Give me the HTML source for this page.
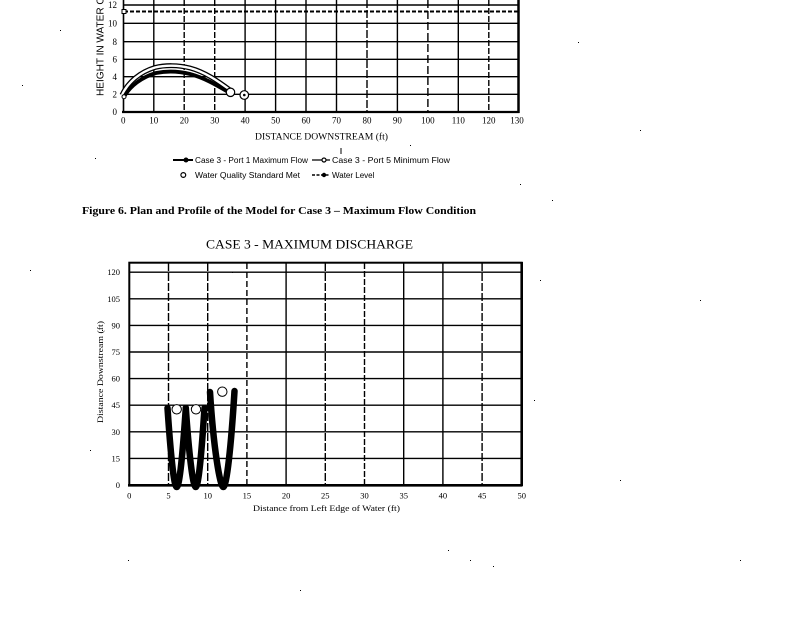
<!DOCTYPE html>
<html><head><meta charset="utf-8"><style>
html,body{margin:0;padding:0;background:#fff;}
svg{display:block;}
.s{font-family:"Liberation Serif",serif;fill:#000;}
.a{font-family:"Liberation Sans",sans-serif;fill:#000;}
</style></head><body>
<svg width="800" height="618" viewBox="0 0 800 618" xmlns="http://www.w3.org/2000/svg">
<rect width="800" height="618" fill="#fff"/>
<!-- TOP CHART -->
<g stroke="#000" stroke-width="1.4" fill="none">
<line x1="123" y1="94.3" x2="518" y2="94.3"/>
<line x1="123" y1="76.7" x2="518" y2="76.7"/>
<line x1="123" y1="59.3" x2="518" y2="59.3"/>
<line x1="123" y1="41.7" x2="518" y2="41.7"/>
<line x1="123" y1="23.3" x2="518" y2="23.3"/>
<line x1="123" y1="5" x2="518" y2="5"/>
<line x1="153.8" y1="0" x2="153.8" y2="112"/>
<line x1="184.2" y1="0" x2="184.2" y2="112" stroke-dasharray="6 2"/>
<line x1="214.7" y1="0" x2="214.7" y2="112" stroke-dasharray="6 2"/>
<line x1="245.1" y1="0" x2="245.1" y2="112"/>
<line x1="275.6" y1="0" x2="275.6" y2="112"/>
<line x1="306" y1="0" x2="306" y2="112"/>
<line x1="336.5" y1="0" x2="336.5" y2="112"/>
<line x1="367" y1="0" x2="367" y2="112" stroke-dasharray="8 2"/>
<line x1="397.4" y1="0" x2="397.4" y2="112"/>
<line x1="427.9" y1="0" x2="427.9" y2="112" stroke-dasharray="8 3"/>
<line x1="458.3" y1="0" x2="458.3" y2="112"/>
<line x1="488.8" y1="0" x2="488.8" y2="112" stroke-dasharray="6 2"/>
</g>
<line x1="123.5" y1="0" x2="123.5" y2="113" stroke="#000" stroke-width="1.6"/>
<line x1="122" y1="112" x2="519.5" y2="112" stroke="#000" stroke-width="2.2"/>
<line x1="518.5" y1="0" x2="518.5" y2="113" stroke="#000" stroke-width="2.5"/>
<line x1="124" y1="11.5" x2="518" y2="11.5" stroke="#000" stroke-width="2" stroke-dasharray="4 2"/>
<rect x="122" y="9.5" width="4" height="4" fill="#fff" stroke="#000" stroke-width="1"/>
<!-- curves -->
<path d="M122,95 C128,82 140,72 155,67.5 C165,65 178,65 190,68 C205,72 218,81 230,90" fill="none" stroke="#000" stroke-width="5"/>
<path d="M122,95 C128,82 140,72 155,67.5 C165,65 178,65 190,68 C205,72 218,81 230,90" fill="none" stroke="#fff" stroke-width="2.4"/>
<path d="M124,97 C130,86 142,77 156,73 C166,71 178,71 190,74 C205,78 218,86 230,93" fill="none" stroke="#000" stroke-width="3.8"/>
<circle cx="230.5" cy="92.3" r="4.2" fill="#fff" stroke="#000" stroke-width="1.2"/>
<circle cx="244.3" cy="95" r="4.3" fill="#fff" stroke="#000" stroke-width="1.2"/>
<circle cx="244.3" cy="95" r="1.3" fill="#000"/>
<circle cx="124" cy="96.7" r="2" fill="#fff" stroke="#000" stroke-width="1"/>
<!-- top labels -->
<g class="s" font-size="9" text-anchor="end">
<text x="117" y="115">0</text>
<text x="117" y="97.5">2</text>
<text x="117" y="80">4</text>
<text x="117" y="62.5">6</text>
<text x="117" y="45">8</text>
<text x="117" y="26.5">10</text>
<text x="117" y="8">12</text>
</g>
<g class="s" font-size="9" text-anchor="middle">
<text x="123.3" y="123.5">0</text>
<text x="153.8" y="123.5">10</text>
<text x="184.2" y="123.5">20</text>
<text x="214.7" y="123.5">30</text>
<text x="245.1" y="123.5">40</text>
<text x="275.6" y="123.5">50</text>
<text x="306" y="123.5">60</text>
<text x="336.5" y="123.5">70</text>
<text x="367" y="123.5">80</text>
<text x="397.4" y="123.5">90</text>
<text x="427.9" y="123.5">100</text>
<text x="458.3" y="123.5">110</text>
<text x="488.8" y="123.5">120</text>
<text x="517" y="123.5">130</text>
</g>
<text class="s" x="255" y="139.5" font-size="9" textLength="133" lengthAdjust="spacingAndGlyphs">DISTANCE DOWNSTREAM (ft)</text>
<text class="a" transform="translate(103.5,96) rotate(-90)" font-size="10" textLength="150" lengthAdjust="spacingAndGlyphs">HEIGHT IN WATER COLUMN (ft)</text>
<!-- legend -->
<line x1="341" y1="148" x2="341" y2="154" stroke="#000" stroke-width="1"/>
<line x1="173" y1="160" x2="193" y2="160" stroke="#000" stroke-width="2"/>
<circle cx="186" cy="160" r="2.5" fill="#000"/>
<text class="a" x="195" y="163" font-size="8" textLength="113" lengthAdjust="spacingAndGlyphs">Case 3 - Port 1 Maximum Flow</text>
<line x1="312" y1="160" x2="330" y2="160" stroke="#000" stroke-width="1.2"/>
<circle cx="324" cy="160" r="2" fill="#fff" stroke="#000" stroke-width="1.2"/>
<text class="a" x="332" y="163" font-size="8" textLength="118" lengthAdjust="spacingAndGlyphs">Case 3 - Port 5 Minimum Flow</text>
<circle cx="183.3" cy="175" r="2.4" fill="#fff" stroke="#000" stroke-width="1.2"/>
<text class="a" x="195" y="178" font-size="8" textLength="105" lengthAdjust="spacingAndGlyphs">Water Quality Standard Met</text>
<line x1="312" y1="175" x2="330" y2="175" stroke="#000" stroke-width="1.6" stroke-dasharray="3 1.5"/>
<circle cx="324" cy="175" r="2.2" fill="#000"/>
<text class="a" x="332" y="178" font-size="8">Water Level</text>
<!-- caption -->
<text class="s" x="82" y="214" font-size="11" font-weight="bold" textLength="394" lengthAdjust="spacingAndGlyphs">Figure 6.  Plan and Profile of the Model for Case 3 – Maximum Flow Condition</text>
<!-- BOTTOM CHART -->
<text class="s" x="206" y="248.5" font-size="12.5" textLength="207" lengthAdjust="spacingAndGlyphs">CASE 3 - MAXIMUM DISCHARGE</text>
<g stroke="#000" stroke-width="1.4" fill="none">
<line x1="129" y1="458.4" x2="521" y2="458.4"/>
<line x1="129" y1="431.8" x2="521" y2="431.8"/>
<line x1="129" y1="405.2" x2="521" y2="405.2"/>
<line x1="129" y1="378.6" x2="521" y2="378.6"/>
<line x1="129" y1="352" x2="521" y2="352"/>
<line x1="129" y1="325.4" x2="521" y2="325.4"/>
<line x1="129" y1="298.8" x2="521" y2="298.8"/>
<line x1="129" y1="272.2" x2="521" y2="272.2"/>
<line x1="168.5" y1="263" x2="168.5" y2="485" stroke-dasharray="8 2"/>
<line x1="207.7" y1="263" x2="207.7" y2="485" stroke-dasharray="8 2"/>
<line x1="246.9" y1="263" x2="246.9" y2="485" stroke-dasharray="6 3"/>
<line x1="286.1" y1="263" x2="286.1" y2="485"/>
<line x1="325.3" y1="263" x2="325.3" y2="485" stroke-dasharray="8 2"/>
<line x1="364.5" y1="263" x2="364.5" y2="485" stroke-dasharray="6 2"/>
<line x1="403.7" y1="263" x2="403.7" y2="485"/>
<line x1="442.9" y1="263" x2="442.9" y2="485"/>
<line x1="482.1" y1="263" x2="482.1" y2="485" stroke-dasharray="8 2"/>
</g>
<rect x="129.3" y="262.7" width="392.4" height="222.3" fill="none" stroke="#000" stroke-width="2"/>
<line x1="128" y1="485.3" x2="522.5" y2="485.3" stroke="#000" stroke-width="2.6"/>
<line x1="521.7" y1="262" x2="521.7" y2="486" stroke="#000" stroke-width="2.6"/>
<!-- W shapes -->
<g fill="none" stroke="#000" stroke-width="6.5" stroke-linecap="round">
<path d="M167.5,408 C170.5,452 173.8,487 176.7,487 C179.6,487 182.8,452 185.8,408"/>
<path d="M185.8,408 C188.8,452 192.8,487 195.7,487 C198.6,487 201.6,452 204.5,408"/>
<path d="M210,392 C213.5,448 220,487 223.3,487 C226.6,487 231,448 234.5,391"/>
</g>
<circle cx="176.7" cy="409.3" r="4.7" fill="#fff" stroke="#000" stroke-width="1"/>
<circle cx="196" cy="409.3" r="4.7" fill="#fff" stroke="#000" stroke-width="1"/>
<circle cx="222.3" cy="391.7" r="4.7" fill="#fff" stroke="#000" stroke-width="1"/>
<!-- bottom labels -->
<g class="s" font-size="8.5" text-anchor="end">
<text x="120" y="488">0</text>
<text x="120" y="461.4">15</text>
<text x="120" y="434.8">30</text>
<text x="120" y="408.2">45</text>
<text x="120" y="381.6">60</text>
<text x="120" y="355">75</text>
<text x="120" y="328.4">90</text>
<text x="120" y="301.8">105</text>
<text x="120" y="275.2">120</text>
</g>
<g class="s" font-size="8.5" text-anchor="middle">
<text x="129.3" y="498.7">0</text>
<text x="168.5" y="498.7">5</text>
<text x="207.7" y="498.7">10</text>
<text x="246.9" y="498.7">15</text>
<text x="286.1" y="498.7">20</text>
<text x="325.3" y="498.7">25</text>
<text x="364.5" y="498.7">30</text>
<text x="403.7" y="498.7">35</text>
<text x="442.9" y="498.7">40</text>
<text x="482.1" y="498.7">45</text>
<text x="521.7" y="498.7">50</text>
</g>
<text class="s" x="253" y="511" font-size="8.5" textLength="147" lengthAdjust="spacingAndGlyphs">Distance from Left Edge of Water (ft)</text>
<text class="s" transform="translate(103,423) rotate(-90)" font-size="8.5" textLength="102" lengthAdjust="spacingAndGlyphs">Distance Downstream (ft)</text>
<!-- speckles -->
<g fill="#000">
<rect x="22" y="85" width="1" height="1"/><rect x="60" y="30" width="1" height="1"/>
<rect x="578" y="42" width="1" height="1"/><rect x="640" y="130" width="1" height="1"/>
<rect x="95" y="158" width="1" height="1"/><rect x="520" y="184" width="1" height="1"/>
<rect x="552" y="200" width="1" height="1"/><rect x="30" y="270" width="1" height="1"/>
<rect x="102" y="330" width="1" height="1"/><rect x="90" y="450" width="1" height="1"/>
<rect x="540" y="280" width="1" height="1"/><rect x="534" y="400" width="1" height="1"/>
<rect x="448" y="550" width="1" height="1"/><rect x="470" y="560" width="1" height="1"/>
<rect x="493" y="566" width="1" height="1"/><rect x="128" y="560" width="1" height="1"/>
<rect x="300" y="590" width="1" height="1"/><rect x="700" y="300" width="1" height="1"/>
<rect x="620" y="480" width="1" height="1"/><rect x="740" y="560" width="1" height="1"/>
<rect x="232" y="272" width="1" height="1"/><rect x="410" y="145" width="1" height="1"/>
</g>
</svg>
</body></html>
